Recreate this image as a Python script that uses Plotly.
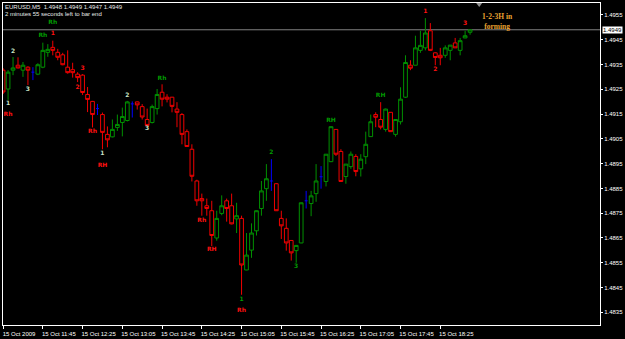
import plotly.graph_objects as go

# ---------------- data ----------------
symbol = "EURUSD,M5"
countdown_text = "2 minutes 55 seconds left to bar end"

bar_index = list(range(95))  # M5 bars starting 15 Oct 2009 11:05

opens = [1.49327, 1.49251, 1.49327, 1.49347, 1.49327, 1.49339, 1.49319, 1.49311, 1.49339, 1.49399,
         1.49419, 1.49399, 1.49389, 1.49339, 1.49329, 1.49311, 1.49307, 1.49229, 1.49201, 1.49172,
         1.49148, 1.49068, 1.49058, 1.49096, 1.49116, 1.49124, 1.49191, 1.49199, 1.49180, 1.49128,
         1.49116, 1.49172, 1.49238, 1.49218, 1.49218, 1.49170, 1.49148, 1.49079, 1.49008, 1.48880,
         1.48809, 1.48780, 1.48760, 1.48650, 1.48749, 1.48800, 1.48780, 1.48727, 1.48729, 1.48521,
         1.48601, 1.48679, 1.48769, 1.48849, 1.48880, 1.48869, 1.48729, 1.48689, 1.48640, 1.48599,
         1.48630, 1.48800, 1.48789, 1.48829, 1.48897, 1.48878, 1.48958, 1.49088, 1.48999, 1.48898,
         1.48938, 1.48979, 1.48929, 1.48978, 1.49059, 1.49148, 1.49128, 1.49088, 1.49157, 1.49068,
         1.49119, 1.49218, 1.49347, 1.49347, 1.49407, 1.49417, 1.49486, 1.49397, 1.49387, 1.49387,
         1.49407, 1.49437, 1.49407, 1.49457, 1.49480]
highs = [1.49335, 1.49327, 1.49380, 1.49379, 1.49360, 1.49343, 1.49339, 1.49355, 1.49438, 1.49432,
         1.49446, 1.49413, 1.49397, 1.49407, 1.49357, 1.49319, 1.49311, 1.49259, 1.49203, 1.49191,
         1.49156, 1.49100, 1.49128, 1.49148, 1.49176, 1.49203, 1.49201, 1.49201, 1.49190, 1.49172,
         1.49188, 1.49251, 1.49270, 1.49230, 1.49219, 1.49198, 1.49154, 1.49088, 1.49028, 1.48885,
         1.48829, 1.48809, 1.48800, 1.48760, 1.48822, 1.48809, 1.48829, 1.48792, 1.48740, 1.48670,
         1.48709, 1.48761, 1.48880, 1.48948, 1.48968, 1.48871, 1.48760, 1.48729, 1.48642, 1.48622,
         1.48793, 1.48840, 1.48840, 1.48948, 1.48940, 1.48988, 1.49100, 1.49088, 1.49008, 1.48948,
         1.48999, 1.48988, 1.48988, 1.49079, 1.49148, 1.49157, 1.49198, 1.49172, 1.49158, 1.49128,
         1.49258, 1.49387, 1.49367, 1.49466, 1.49486, 1.49537, 1.49517, 1.49399, 1.49417, 1.49427,
         1.49428, 1.49457, 1.49457, 1.49486, 1.49490]
lows = [1.49231, 1.49207, 1.49307, 1.49334, 1.49300, 1.49267, 1.49287, 1.49307, 1.49335, 1.49381,
        1.49387, 1.49367, 1.49347, 1.49313, 1.49297, 1.49279, 1.49227, 1.49158, 1.49096, 1.49146,
        1.49008, 1.49016, 1.49056, 1.49082, 1.49060, 1.49120, 1.49136, 1.49168, 1.49128, 1.49100,
        1.49112, 1.49148, 1.49181, 1.49197, 1.49157, 1.49097, 1.49028, 1.49018, 1.48878, 1.48780,
        1.48740, 1.48740, 1.48617, 1.48639, 1.48742, 1.48716, 1.48705, 1.48670, 1.48421, 1.48520,
        1.48570, 1.48660, 1.48740, 1.48800, 1.48840, 1.48759, 1.48646, 1.48599, 1.48559, 1.48550,
        1.48629, 1.48769, 1.48738, 1.48796, 1.48849, 1.48858, 1.48956, 1.48981, 1.48877, 1.48869,
        1.48929, 1.48899, 1.48898, 1.48948, 1.49058, 1.49097, 1.49088, 1.49079, 1.49078, 1.49059,
        1.49108, 1.49215, 1.49327, 1.49347, 1.49397, 1.49407, 1.49404, 1.49347, 1.49347, 1.49377,
        1.49367, 1.49417, 1.49387, 1.49456, 1.49470]
closes = [1.49239, 1.49319, 1.49336, 1.49336, 1.49347, 1.49327, 1.49319, 1.49349, 1.49407, 1.49411,
          1.49407, 1.49379, 1.49349, 1.49317, 1.49317, 1.49297, 1.49237, 1.49209, 1.49148, 1.49172,
          1.49076, 1.49046, 1.49088, 1.49108, 1.49140, 1.49199, 1.49191, 1.49187, 1.49138, 1.49104,
          1.49180, 1.49229, 1.49210, 1.49210, 1.49181, 1.49157, 1.49068, 1.49019, 1.48899, 1.48800,
          1.48800, 1.48769, 1.48660, 1.48729, 1.48780, 1.48769, 1.48707, 1.48740, 1.48541, 1.48581,
          1.48670, 1.48760, 1.48840, 1.48889, 1.48880, 1.48760, 1.48699, 1.48630, 1.48590, 1.48620,
          1.48792, 1.48800, 1.48820, 1.48880, 1.48897, 1.48988, 1.49099, 1.48988, 1.48878, 1.48948,
          1.48988, 1.48918, 1.48968, 1.49028, 1.49119, 1.49137, 1.49097, 1.49170, 1.49079, 1.49128,
          1.49210, 1.49358, 1.49335, 1.49417, 1.49427, 1.49477, 1.49407, 1.49378, 1.49377, 1.49417,
          1.49428, 1.49417, 1.49446, 1.49466, 1.49490]

# bars drawn in blue by the chart (doji-like bars)
doji_bars = [6, 19, 26, 54, 61, 64]

# time axis
tick_bars = [0, 8, 16, 24, 32, 40, 48, 56, 64, 72, 80, 88]
tick_labels = ["15 Oct 2009", "15 Oct 11:45", "15 Oct 12:25", "15 Oct 13:05",
               "15 Oct 13:45", "15 Oct 14:25", "15 Oct 15:05", "15 Oct 15:45",
               "15 Oct 16:25", "15 Oct 17:05", "15 Oct 17:45", "15 Oct 18:25"]

# price axis
price_ticks = [1.4835, 1.4845, 1.4855, 1.4865, 1.4875, 1.4885, 1.4895,
               1.4905, 1.4915, 1.4925, 1.4935, 1.4945, 1.4955]
bid_price = 1.4949

# 1-2-3 pattern indicator labels
lab_bar = [10, 8, 10, 2, 16, 15, 5, 25, 32, 1, 1, 18, 20, 20, 29,
           40, 42, 48, 48, 54, 59, 66, 76, 85, 87, 93]
lab_price = [1.49518, 1.49466, 1.49474, 1.49403, 1.49335, 1.49259, 1.49251, 1.49223, 1.49295,
             1.49191, 1.49148, 1.49080, 1.48992, 1.48944, 1.49092,
             1.48721, 1.48602, 1.48403, 1.48359, 1.48996, 1.48534, 1.49124, 1.49223,
             1.49562, 1.49331, 1.49514]
lab_text = ["Rh", "Rh", "1", "2", "3", "2", "3", "2", "Rh", "1", "Rh", "Rh", "1", "RH", "3",
            "Rh", "RH", "1", "Rh", "2", "3", "RH", "RH", "1", "2", "3"]
lab_kind = ["g", "g", "r", "p", "r", "r", "p", "p", "g", "p", "r", "r", "p", "r", "p",
            "r", "r", "g", "r", "g", "g", "g", "g", "r", "r", "r"]

note_text = "1-2-3H in<br>forming"
note_bar = 99.5
note_price = 1.49522

# ---------------- styles ----------------
BULL = "#009000"
BEAR = "#F00000"
DOJI = "#0000FF"
FG = "#FFFFFF"
kind_colors = {"g": "#009A00", "r": "#FF1010", "p": "#C8E4C8"}
AX_FONT = dict(family="Liberation Sans, Arial, sans-serif", size=6, color=FG)

fig = go.Figure()

main = [k for k in bar_index if k not in doji_bars]
fig.add_trace(go.Candlestick(
    x=main,
    open=[opens[k] for k in main], high=[highs[k] for k in main],
    low=[lows[k] for k in main], close=[closes[k] for k in main],
    increasing=dict(line=dict(color=BULL, width=1), fillcolor="#000000"),
    decreasing=dict(line=dict(color=BEAR, width=1), fillcolor="#000000"),
    whiskerwidth=0, hoverinfo="skip", showlegend=False,
))
fig.add_trace(go.Ohlc(
    x=doji_bars,
    open=[opens[k] for k in doji_bars], high=[highs[k] for k in doji_bars],
    low=[lows[k] for k in doji_bars], close=[closes[k] for k in doji_bars],
    increasing=dict(line=dict(color=DOJI, width=1)),
    decreasing=dict(line=dict(color=DOJI, width=1)),
    tickwidth=0.1, hoverinfo="skip", showlegend=False,
))

for kind, col in kind_colors.items():
    idx = [i for i, kd in enumerate(lab_kind) if kd == kind]
    fig.add_trace(go.Scatter(
        x=[lab_bar[i] for i in idx], y=[lab_price[i] for i in idx],
        text=[lab_text[i] for i in idx], mode="text",
        textposition="middle center",
        textfont=dict(family="DejaVu Sans, sans-serif", size=6, color=col, weight="bold"),
        hoverinfo="skip", showlegend=False,
    ))

# bid line
fig.add_shape(type="line", xref="paper", x0=0, x1=1, yref="y", y0=bid_price, y1=bid_price,
              line=dict(color="#808080", width=1), layer="below")

# chart-shift marker
fig.add_shape(type="path", xref="paper", yref="paper",
              path="M 0.7926 1.0 L 0.8027 1.0 L 0.7977 0.9877 Z",
              fillcolor="#909090", line=dict(width=0))

# price tag
fig.add_annotation(xref="paper", x=1, xanchor="left", xshift=2, yref="y", y=bid_price,
                   text=f"{bid_price:.4f}", showarrow=False, bgcolor="#FFFFFF", borderpad=0,
                   font=dict(family="Liberation Sans, Arial, sans-serif", size=6, color="#000000"))

# header texts
fig.add_annotation(xref="paper", yref="paper", x=0.0, y=0.9877, xanchor="left", yanchor="middle",
                   text=f"{symbol}  {opens[-1]:.4f} {highs[-1]:.4f} {lows[-1]:.4f} {closes[-1]:.4f}",
                   showarrow=False, font=dict(family="Liberation Sans, Arial, sans-serif", size=6, color="#E8E8E8"))
fig.add_annotation(xref="paper", yref="paper", x=0.0, y=0.9663, xanchor="left", yanchor="middle",
                   text=countdown_text, showarrow=False,
                   font=dict(family="Liberation Sans, Arial, sans-serif", size=6, color="#E8E8E8"))

# pattern note
fig.add_annotation(x=note_bar, y=note_price, text=note_text, showarrow=False,
                   font=dict(family="Liberation Serif, serif", size=7.5, color="#E8A030", weight="bold"))

fig.update_layout(
    width=625, height=339,
    margin=dict(l=2, r=25, t=2, b=11, pad=0),
    paper_bgcolor="#000000", plot_bgcolor="#000000",
    showlegend=False, boxgap=0.25, boxgroupgap=0,
    xaxis=dict(range=[-0.02, 120.15], showgrid=False, zeroline=False,
               showline=True, linecolor=FG, linewidth=1, mirror=True,
               ticks="outside", ticklen=3, tickcolor=FG, tickwidth=1,
               tickvals=tick_bars, ticktext=tick_labels, tickfont=AX_FONT,
               ticklabelshift=16, rangeslider=dict(visible=False), fixedrange=True),
    yaxis=dict(range=[1.48299, 1.49598], side="right", showgrid=False, zeroline=False,
               showline=True, linecolor=FG, linewidth=1, mirror=True,
               ticks="outside", ticklen=2, tickcolor=FG, tickwidth=1,
               tickvals=price_ticks, ticktext=[f"{p:.4f}" for p in price_ticks],
               tickfont=AX_FONT, fixedrange=True),
)

fig.write_html("out.html", config={"displayModeBar": False})
